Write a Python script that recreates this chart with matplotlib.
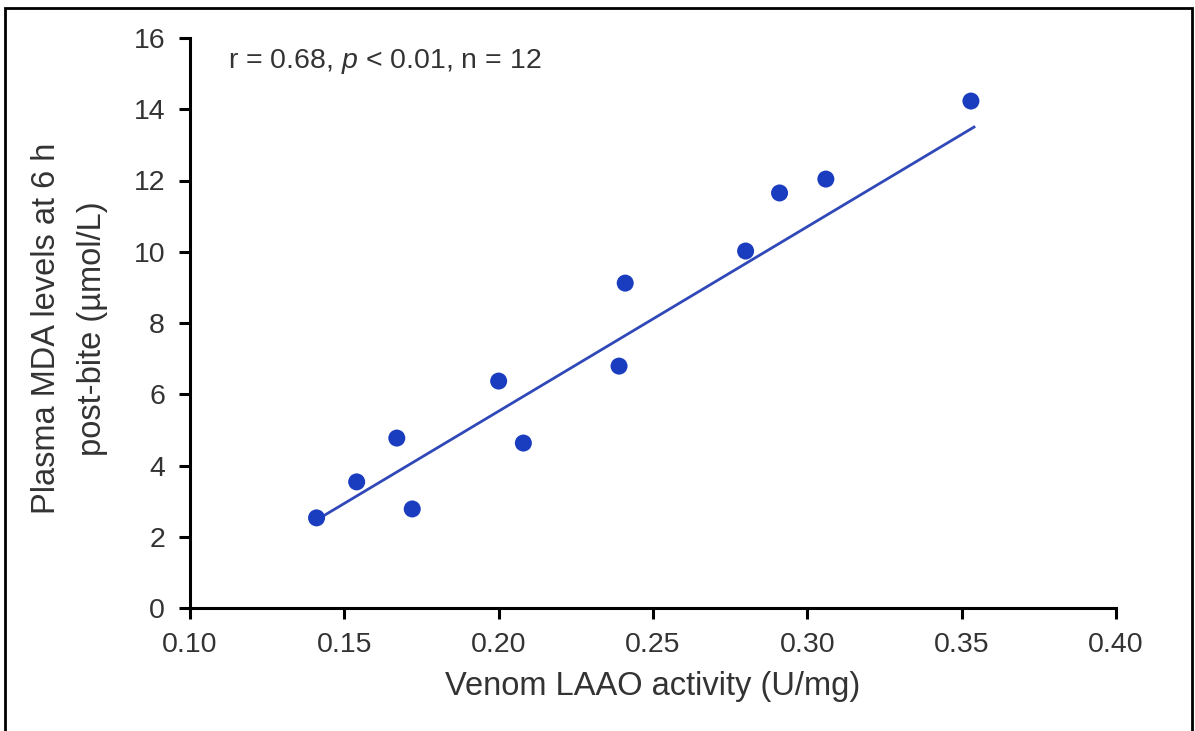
import numpy as np
import matplotlib
matplotlib.use("Agg")
import matplotlib.pyplot as plt
from matplotlib.patches import Rectangle

plt.rcParams['font.family'] = ['Liberation Sans', 'DejaVu Sans']
plt.rcParams['mathtext.fontset'] = 'custom'
plt.rcParams['mathtext.it'] = 'Liberation Sans:italic'
plt.rcParams['mathtext.rm'] = 'Liberation Sans'

# venom LAAO activity (U/mg) vs plasma MDA (umol/L)
laao = [0.141, 0.154, 0.167, 0.172, 0.200, 0.208, 0.239, 0.241, 0.280, 0.291, 0.306, 0.353]
mda = [2.53, 3.54, 4.77, 2.78, 6.37, 4.63, 6.79, 9.12, 10.02, 11.65, 12.04, 14.23]
# regression line as drawn in the figure
fit_x = [0.141, 0.354]
fit_y = [2.47, 13.50]
xticks = [0.10, 0.15, 0.20, 0.25, 0.30, 0.35, 0.40]
yticks = [0, 2, 4, 6, 8, 10, 12, 14, 16]

fig = plt.figure(figsize=(11.95, 7.31), dpi=100)
ax = fig.add_axes([190/1195, 1-608/731, (1116-190)/1195, (608-38)/731])

# outer frame
fig.patches.append(Rectangle((5/1195, -0.05), 1187/1195, 1.05-8/731, transform=fig.transFigure,
                             fill=False, edgecolor='black', linewidth=2))

ax.plot(fit_x, fit_y, color='#3048b8', lw=2.0, zorder=2)
ax.scatter(laao, mda, s=150, color='#1a3dbf', edgecolor='none', zorder=3)

ax.set_xlim(0.10, 0.40)
ax.set_ylim(0, 16)
ax.set_xticks(xticks)
ax.set_xticklabels(['%.2f' % t for t in xticks])
ax.set_yticks(yticks)
for s in ['top', 'right']:
    ax.spines[s].set_visible(False)
for s in ['left', 'bottom']:
    ax.spines[s].set_linewidth(2.2)
ax.tick_params(direction='out', length=8, width=2.2, labelsize=20.5, colors='black',
               labelcolor='#333333')
ax.tick_params(axis='x', pad=9)
ax.tick_params(axis='y', pad=10)
ax.set_xlabel('Venom LAAO activity (U/mg)', fontsize=23.5, color='#333333', labelpad=10)
ax.set_ylabel('Plasma MDA levels at 6 h\npost-bite (\u00b5mol/L)', fontsize=23.5,
              color='#333333', linespacing=1.6)
ax.yaxis.set_label_coords(-0.089, 0.49)

ax.text(0.1123, 15.33, r'r = 0.68, $\it{p}$ < 0.01, n = 12', fontsize=20.5,
        color='#333333', va='center', ha='left')

fig.savefig('out.png', dpi=100)
